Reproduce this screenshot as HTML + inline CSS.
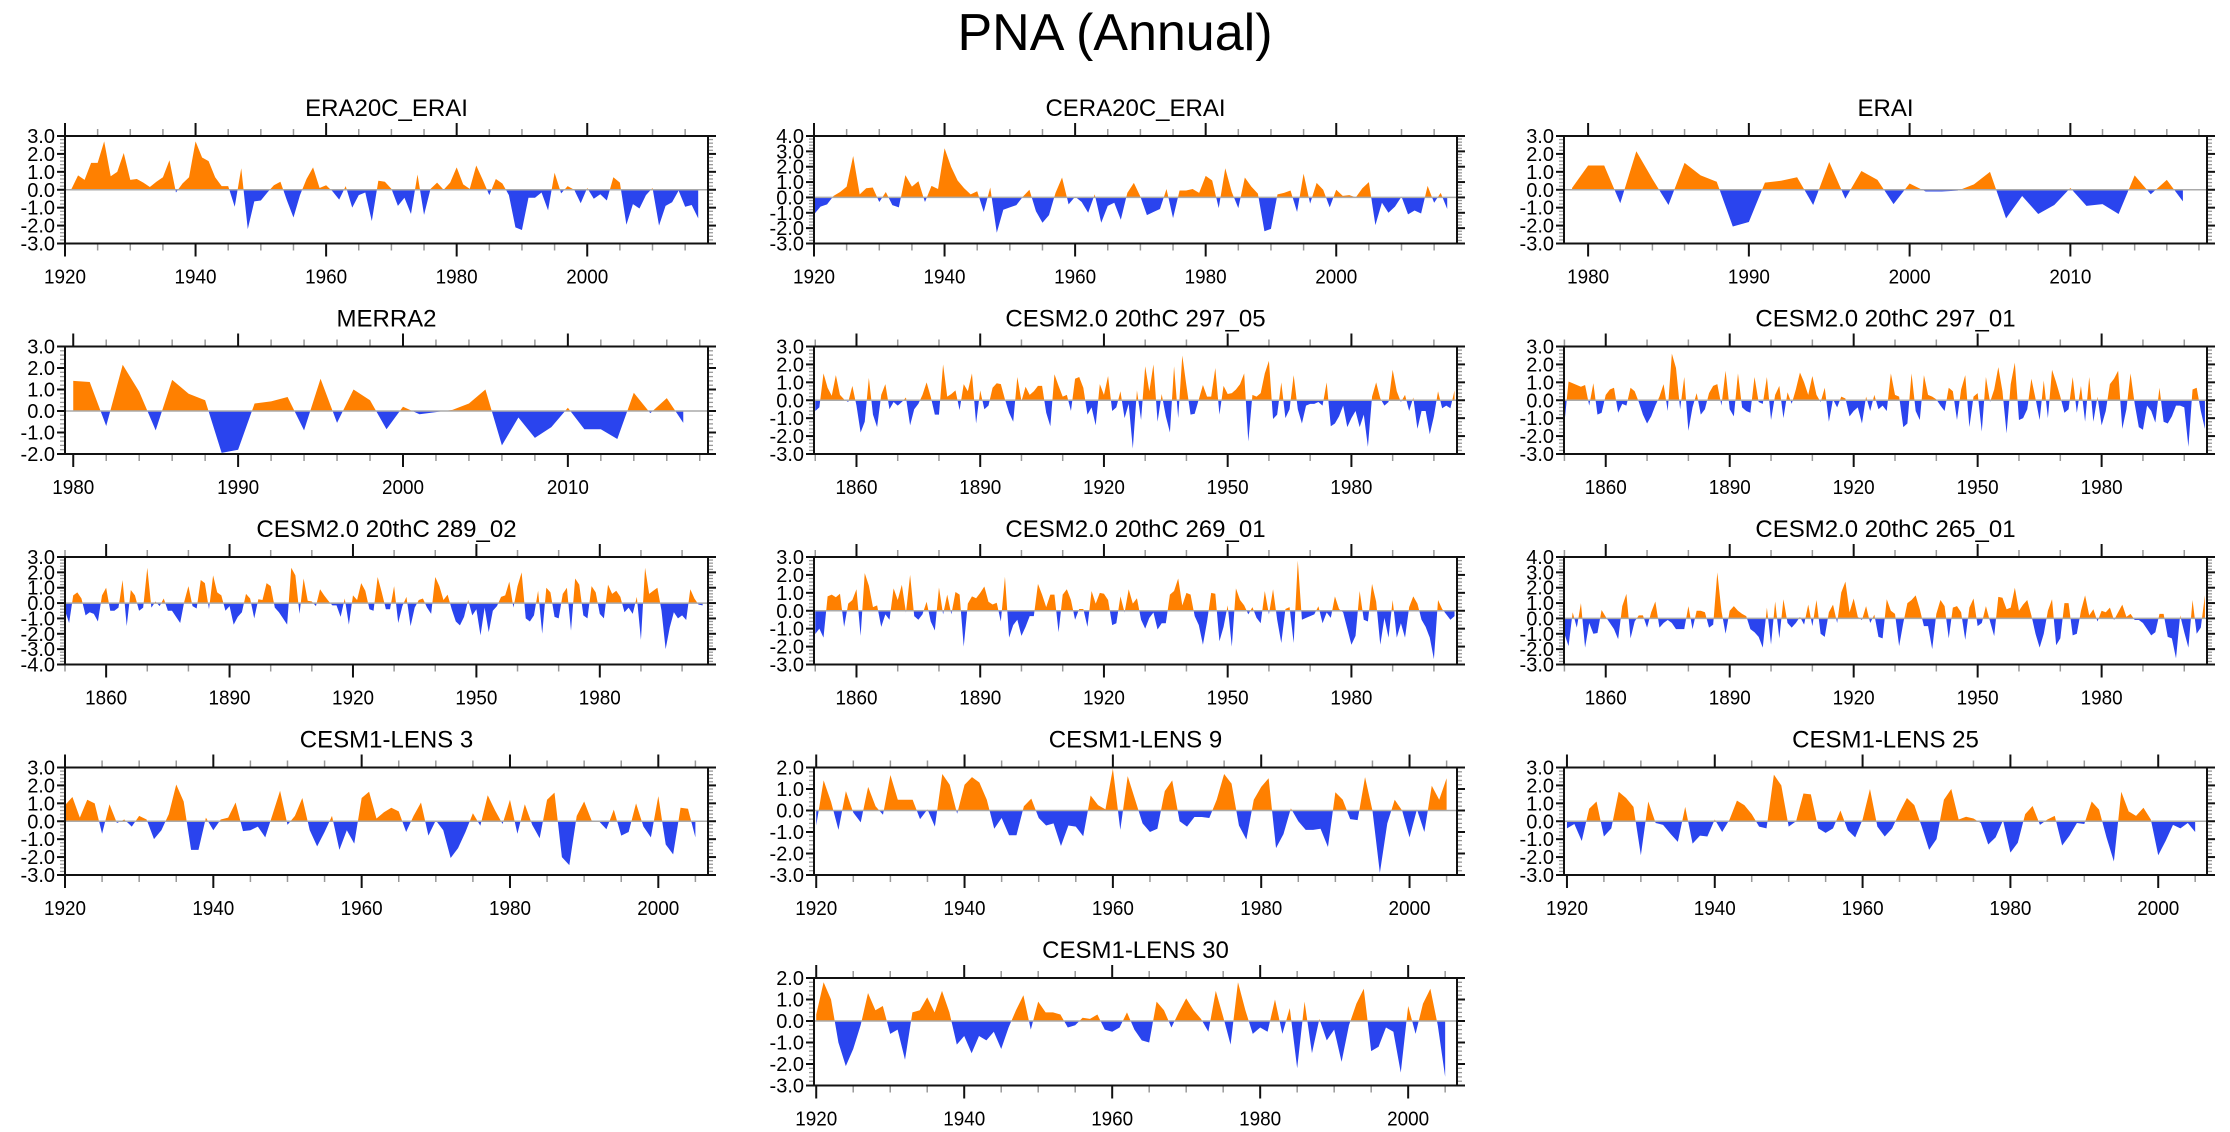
<!DOCTYPE html>
<html>
<head>
<meta charset="utf-8">
<style>
  html,body{margin:0;padding:0;background:#fff;}
  svg{display:block;font-family:"Liberation Sans",Arial,sans-serif;}
</style>
</head>
<body>
<svg id="chart" width="2230" height="1132" viewBox="0 0 2230 1132" xmlns="http://www.w3.org/2000/svg">
  <text x="1115" y="50" text-anchor="middle" font-size="52" fill="#000">PNA (Annual)</text>
</svg>
<script>
// ---------- DATA ----------
const era20cStart = 1920;
const era20cVals = [0,0.05,0.8,0.55,1.5,1.5,2.7,0.75,1.0,2.05,0.55,0.6,0.4,0.15,0.45,0.7,1.65,-0.15,0.35,0.7,2.7,1.8,1.6,0.7,0.2,0.2,-0.95,1.2,-2.2,-0.65,-0.6,-0.15,0.25,0.45,-0.6,-1.55,-0.3,0.6,1.25,0.1,0.25,-0.1,-0.55,0.2,-1.0,-0.3,-0.15,-1.75,0.5,0.45,0.05,-0.9,-0.45,-1.35,0.85,-1.4,0.05,0.4,0.0,0.4,1.25,0.3,0.05,1.35,0.55,-0.3,0.6,0.35,-0.3,-2.1,-2.25,-0.45,-0.45,-0.15,-1.15,0.95,-0.2,0.2,0.0,-0.75,0.1,-0.5,-0.25,-0.6,0.7,0.4,-1.95,-0.8,-1.05,-0.3,0.1,-2.0,-0.9,-0.7,-0.05,-0.95,-0.85,-1.6];
const cera20cStart = 1920;
const cera20cVals = [-1.1,-0.6,-0.45,0.1,0.35,0.7,2.7,0.2,0.6,0.65,-0.3,0.35,-0.5,-0.65,1.45,0.7,1.05,-0.3,0.75,0.55,3.2,2.0,1.1,0.6,0.2,0.4,-0.95,0.65,-2.3,-0.8,-0.65,-0.5,0.05,0.5,-0.9,-1.65,-1.15,0.3,1.3,-0.45,0.05,-0.3,-1.0,0.2,-1.65,-0.55,-0.35,-1.45,0.3,0.95,0.05,-1.15,-0.95,-0.75,0.55,-1.35,0.45,0.45,0.55,0.3,1.4,1.1,-0.7,1.9,0.35,-0.7,1.3,0.7,0.25,-2.2,-2.05,0.2,0.3,0.45,-0.95,1.55,-0.4,0.95,0.5,-0.65,0.5,0.1,0.15,0.0,0.6,1.0,-1.8,-0.35,-1.0,-0.6,0.05,-1.1,-0.85,-1.05,0.75,-0.35,0.3,-0.75];
const eraiStart = 1979;
const eraiVals = [0.1,1.35,1.35,-0.75,2.15,0.6,-0.85,1.5,0.8,0.45,-2.05,-1.8,0.4,0.5,0.7,-0.85,1.55,-0.5,1.05,0.55,-0.8,0.35,-0.1,-0.1,-0.05,0.3,1.0,-1.6,-0.35,-1.35,-0.85,0.1,-0.9,-0.8,-1.35,0.8,-0.25,0.55,-0.65];
const merra2Start = 1980;
const merra2Vals = [1.4,1.35,-0.7,2.15,0.9,-0.9,1.45,0.8,0.5,-1.95,-1.8,0.35,0.45,0.65,-0.9,1.5,-0.55,1.0,0.5,-0.85,0.2,-0.15,-0.05,0.05,0.35,1.0,-1.6,-0.3,-1.25,-0.75,0.15,-0.85,-0.85,-1.3,0.85,-0.1,0.6,-0.55];
const cesm29705Start = 1850;
const cesm29705Vals = [-0.6,-0.4,1.5,0.7,0.25,1.4,0.3,0.05,-0.1,0.8,-0.3,-1.8,-1.2,1.25,-0.8,-1.5,0.3,0.9,-0.5,-0.1,-0.3,-0.1,0.15,-1.4,-0.5,-0.2,0.3,1.0,0.2,-0.8,-0.8,2.0,0.2,0.35,0.55,-0.55,0.9,0.5,1.5,-1.3,0.55,-0.5,-0.3,0.7,0.95,0.9,0.05,-0.7,-1.2,1.3,-0.05,0.75,0.3,0.5,0.8,0.8,-0.7,-1.45,1.45,0.8,0.2,0.3,-0.6,1.2,1.3,0.7,-0.8,-0.4,-1.4,0.9,0.3,1.35,-0.6,-0.4,0.5,-1.0,-0.2,-2.7,0.55,-1.1,1.9,0.5,2.0,-1.2,0.35,-0.9,-1.8,1.9,-1.0,2.5,0.8,-0.8,-0.75,0.05,0.85,0.2,0.2,1.8,-0.8,0.8,0.35,0.4,0.6,0.9,1.5,-2.3,0.3,0.2,0.4,1.5,2.2,-1.05,-0.8,1.0,-1.0,-0.5,1.4,-0.5,-1.3,-0.3,-0.2,-0.2,-0.1,-0.3,1.0,-1.45,-1.3,-0.9,-0.3,-1.5,-1.0,-0.6,-1.5,-0.8,-2.6,0.2,1.0,0.1,-0.3,-0.1,1.7,0.5,-0.1,0.3,-0.6,0.15,-1.6,-0.6,-0.6,-1.9,-0.9,0.5,-0.45,-0.3,-0.45,0.55];
const cesm29701Start = 1850;
const cesm29701Vals = [-1.3,1.05,0.95,0.85,0.75,0.85,-0.3,0.95,-0.8,-0.7,0.3,0.6,0.7,-0.7,-0.2,-0.3,0.7,0.5,-0.1,-0.8,-1.3,-0.9,-0.3,0.2,0.9,-0.6,2.6,1.8,-0.5,1.3,-1.7,-0.4,0.4,-0.8,-0.5,0.4,0.8,0.9,-0.3,1.65,-0.5,-0.9,1.5,-0.4,-0.6,-0.7,1.3,-0.1,-0.2,1.3,-1.1,0.3,0.8,-1.0,0.45,-0.2,0.6,1.55,1.0,0.3,1.35,0.3,-0.1,0.7,-1.2,0.05,-0.4,0.2,0.1,-0.9,-0.6,-0.4,-1.3,0.2,-0.6,0.3,-0.5,-0.3,-0.6,1.5,0.3,0.2,-1.5,-1.3,1.5,-0.6,-1.1,1.4,0.3,0.2,0.05,-0.3,-0.6,0.7,0.5,-1.1,0.6,1.4,-1.5,0.2,0.4,-1.75,1.3,-0.1,0.6,1.85,0.5,-1.85,0.9,2.1,-1.1,-1.0,-0.5,1.2,0.1,-1.1,1.1,-1.0,1.7,1.0,0.2,-0.7,-0.5,1.3,-0.7,0.8,-1.2,1.3,-1.2,0.2,-1.4,-0.6,0.9,1.2,1.65,-1.6,-0.5,1.5,-0.2,-1.5,-1.65,-0.3,-0.6,-1.25,0.7,-1.2,-1.3,-0.9,-0.3,-0.3,-0.4,-2.6,0.6,0.7,-0.6,-1.6];
const cesm28902Start = 1850;
const cesm28902Vals = [-0.5,-1.3,0.5,0.7,0.3,-0.8,-0.6,-0.7,-1.2,0.5,1.0,-0.5,-0.5,-0.3,1.5,-1.5,0.85,0.5,-0.5,-0.3,2.3,-0.3,0.1,-0.2,0.3,-0.5,-0.5,-0.9,-1.3,0.1,1.1,-0.2,-0.35,1.5,1.3,-0.4,1.8,0.7,0.5,-0.5,-0.2,-1.4,-0.9,-0.6,0.6,0.3,-1.0,0.25,0.2,1.3,1.1,-0.3,-0.6,-1.0,-1.4,2.3,1.8,-0.7,1.6,0.15,0.1,-0.2,0.9,0.5,0.15,-0.15,-0.15,-0.9,0.3,-1.4,0.5,0.2,1.3,0.8,-0.4,-0.5,1.7,0.7,-0.4,-0.4,1.1,-1.3,-0.2,0.4,-1.5,-0.3,0.2,0.3,-0.3,-0.7,1.7,1.1,0.2,0.55,-0.4,-1.2,-1.45,-0.9,0.2,-0.8,-0.4,-2.1,-0.3,-1.9,-0.5,-0.2,0.4,0.5,1.4,-0.3,1.1,2.0,-1.0,-1.2,-0.8,0.8,-2.0,1.0,0.7,-0.9,-1.0,0.6,1.0,-1.8,1.6,1.2,-0.8,-1.0,1.1,0.7,-0.7,-1.0,1.2,0.6,0.8,0.4,-0.6,-0.3,-0.7,0.4,-2.4,2.3,0.6,0.8,1.0,-0.5,-3.0,-1.6,-0.6,-1.0,-0.8,-1.1,0.9,0.3,-0.1,-0.15];
const cesm26901Start = 1850;
const cesm26901Vals = [-1.3,-1.0,-1.5,0.8,0.9,0.75,0.95,-0.9,0.4,0.6,1.2,-1.4,2.1,1.4,0.2,0.3,-0.9,-0.2,-0.5,1.25,0.6,1.45,-0.1,2.0,-0.3,-0.5,-0.2,0.5,-0.6,-1.1,1.3,-0.2,0.9,-0.2,1.05,0.9,-2.0,0.4,0.8,0.7,1.0,1.35,0.5,0.35,0.45,-0.6,1.9,-1.5,-0.8,-0.5,-1.4,-0.9,-0.3,-0.3,1.5,0.9,0.2,0.9,0.9,-1.2,0.9,1.2,0.6,-0.5,0.1,0.1,-0.9,1.1,0.4,1.0,0.95,0.6,-0.8,-0.7,0.8,-0.1,1.2,0.4,0.7,-0.5,-1.0,-0.4,-0.1,-1.05,-0.7,-0.7,0.9,1.1,1.8,0.3,1.0,0.9,-0.3,-0.8,-1.9,-0.6,1.0,0.95,-1.7,-0.9,0.3,-2.0,1.25,0.6,0.3,-0.2,0.2,-0.4,-0.7,1.1,-0.2,1.2,-0.5,-1.8,0.1,0.2,-1.8,2.8,-0.5,-0.4,-0.3,-0.2,0.25,-0.7,-0.1,-0.4,0.8,0.1,-0.1,-1.0,-1.9,-1.4,1.1,-0.5,-0.6,1.5,0.5,-1.9,-0.4,-1.5,0.6,-1.5,-0.7,-1.5,0.2,0.8,0.4,-0.5,-0.9,-1.5,-2.7,0.6,0.1,-0.2,-0.5,-0.3];
const cesm26501Start = 1850;
const cesm26501Vals = [-1.0,-1.8,0.4,-0.6,1.0,-1.9,-0.3,-1.0,-0.95,0.55,0.1,-0.3,-0.7,-1.35,0.8,1.6,-1.3,-0.2,0.2,0.2,-0.6,0.4,1.1,-0.6,-0.3,-0.1,-0.3,-0.7,-0.7,-0.7,0.8,-0.7,0.5,0.5,0.4,-0.6,-0.4,3.0,0.5,-1.0,0.5,0.8,0.5,0.3,0.15,-0.7,-0.9,-1.2,-1.9,0.7,-1.7,1.1,-1.3,1.25,-0.3,-0.6,-0.3,0.1,-0.4,0.9,-0.5,1.2,-1.0,-1.2,0.4,0.9,-0.3,1.7,2.4,0.4,1.3,0.1,-0.1,0.8,-0.3,0.25,-1.2,-1.3,1.25,0.5,0.3,-1.8,-0.3,1.0,1.2,1.5,0.6,-0.5,-0.5,-2.0,0.3,1.2,0.8,-1.3,0.7,0.8,0.4,-1.4,0.7,1.3,-0.5,-0.3,0.8,-0.2,-1.15,1.4,1.35,0.6,0.7,2.0,0.5,0.9,1.2,0.2,-1.0,-1.9,-1.0,0.5,1.25,-1.75,-1.3,1.0,1.0,-1.1,-1.0,0.5,1.5,0.2,0.6,-0.2,0.5,0.4,0.7,-0.1,0.4,0.9,0.1,0.3,-0.1,-0.1,-0.3,-0.7,-1.1,-0.9,0.3,0.3,-1.2,-1.3,-2.6,0.2,-0.9,-1.9,1.2,-1.0,-0.6,1.5];
const lens3Start = 1920;
const lens3Vals = [0.9,1.35,0.2,1.2,1.0,-0.7,0.95,-0.1,0.1,-0.3,0.3,0.1,-1.0,-0.5,0.4,2.05,1.1,-1.6,-1.6,0.2,-0.5,0.1,0.2,1.05,-0.55,-0.5,-0.3,-0.9,0.4,1.7,-0.2,0.3,1.3,-0.5,-1.4,-0.6,0.3,-1.6,-0.5,-1.25,1.3,1.65,0.15,0.5,0.75,0.55,-0.6,0.3,1.05,-0.8,0.05,-0.5,-2.05,-1.5,-0.6,0.45,-0.25,1.45,0.6,-0.15,1.2,-0.7,0.95,-0.2,-0.95,1.2,1.6,-2.0,-2.45,0.3,1.1,0.05,0.0,-0.45,0.65,-0.8,-0.6,1.0,-0.3,-0.9,1.4,-1.3,-1.85,0.75,0.7,-0.9];
const lens9Start = 1920;
const lens9Vals = [-0.7,1.4,0.4,-0.9,0.9,-0.1,-0.55,1.1,0.2,-0.2,1.65,0.5,0.5,0.5,-0.4,0.05,-0.75,1.7,1.2,-0.15,1.2,1.55,1.3,0.5,-0.85,-0.35,-1.15,-1.15,0.2,0.55,-0.35,-0.7,-0.6,-1.65,-0.7,-0.75,-1.2,0.7,0.25,0.05,1.95,-0.9,1.6,0.5,-0.6,-1.0,-0.85,0.9,1.4,-0.5,-0.75,-0.3,-0.3,-0.35,0.5,1.7,1.25,-0.7,-1.35,0.5,1.1,1.5,-1.75,-1.1,0.1,-0.5,-0.9,-0.9,-0.85,-1.7,0.85,0.5,-0.4,-0.45,1.55,0.0,-2.9,-0.6,0.5,0.0,-1.25,0.05,-1.0,1.15,0.5,1.5];
const lens25Start = 1920;
const lens25Vals = [-0.4,-0.15,-1.1,0.7,1.1,-0.85,-0.4,1.65,1.3,0.8,-1.9,1.1,-0.1,-0.2,-0.7,-1.15,0.8,-1.25,-0.8,-0.85,0.1,-0.6,0.1,1.15,0.9,0.4,-0.3,-0.4,2.6,2.0,-0.3,0.0,1.55,1.5,-0.4,-0.65,-0.4,0.6,-0.5,-0.9,0.1,1.8,-0.3,-0.85,-0.4,0.5,1.3,0.9,-0.3,-1.6,-1.0,1.2,1.8,0.1,0.25,0.15,-0.1,-1.3,-0.9,0.05,-1.75,-1.2,0.4,0.85,-0.2,0.1,0.3,-1.35,-0.8,-0.1,-0.15,1.1,0.65,-0.9,-2.25,1.65,0.55,0.3,0.75,0.1,-1.9,-1.1,-0.2,-0.4,-0.1,-0.6];
const lens30Start = 1920;
const lens30Vals = [0.3,1.8,1.0,-1.0,-2.1,-1.3,-0.2,1.3,0.5,0.7,-0.6,-0.4,-1.8,0.4,0.5,1.1,0.4,1.4,0.4,-1.1,-0.7,-1.5,-0.7,-0.9,-0.5,-1.3,-0.3,0.5,1.2,-0.4,0.9,0.4,0.4,0.3,-0.3,-0.2,0.15,0.1,0.3,-0.4,-0.5,-0.3,0.4,-0.4,-0.9,-1.0,0.9,0.5,-0.3,0.4,1.05,0.5,0.1,-0.5,1.4,0.2,-1.1,1.8,0.5,-0.6,-0.3,-0.5,1.0,-0.6,0.6,-2.2,0.9,-1.5,0.1,-0.9,-0.4,-1.9,-0.2,0.8,1.5,-1.4,-1.2,-0.3,-0.5,-2.4,0.7,-0.6,0.8,1.5,-0.2,-2.6];

// ---------- LAYOUT ----------
const NS = "http://www.w3.org/2000/svg";
const svg = document.getElementById("chart");
const PW = 643, PH = 107.5;
const colX = [65, 814, 1564];
const rowY = [136, 346.5, 557, 767.5, 978];
const ORANGE = "#ff8000", BLUE = "#2a44ee";

function mk(tag, attrs, parent) {
  const e = document.createElementNS(NS, tag);
  for (const k in attrs) e.setAttribute(k, attrs[k]);
  (parent || svg).appendChild(e);
  return e;
}

const panels = [
  {id:"era20c-erai", title:"ERA20C_ERAI", vals:era20cVals, start:era20cStart, xmin:1920, xmax:2018.5, ymin:-3, ymax:3, major:20, minor:5, c:0, r:0},
  {id:"cera20c-erai", title:"CERA20C_ERAI", vals:cera20cVals, start:cera20cStart, xmin:1920, xmax:2018.5, ymin:-3, ymax:4, major:20, minor:5, c:1, r:0},
  {id:"erai", title:"ERAI", vals:eraiVals, start:eraiStart, xmin:1978.5, xmax:2018.5, ymin:-3, ymax:3, major:10, minor:2, c:2, r:0},
  {id:"merra2", title:"MERRA2", vals:merra2Vals, start:merra2Start, xmin:1979.5, xmax:2018.5, ymin:-2, ymax:3, major:10, minor:2, c:0, r:1},
  {id:"cesm2-297-05", title:"CESM2.0 20thC 297_05", vals:cesm29705Vals, start:cesm29705Start, xmin:1849.7, xmax:2005.6, ymin:-3, ymax:3, major:30, minor:10, c:1, r:1},
  {id:"cesm2-297-01", title:"CESM2.0 20thC 297_01", vals:cesm29701Vals, start:cesm29701Start, xmin:1849.9, xmax:2005.5, ymin:-3, ymax:3, major:30, minor:10, c:2, r:1},
  {id:"cesm2-289-02", title:"CESM2.0 20thC 289_02", vals:cesm28902Vals, start:cesm28902Start, xmin:1850, xmax:2006.3, ymin:-4, ymax:3, major:30, minor:10, c:0, r:2},
  {id:"cesm2-269-01", title:"CESM2.0 20thC 269_01", vals:cesm26901Vals, start:cesm26901Start, xmin:1849.7, xmax:2005.6, ymin:-3, ymax:3, major:30, minor:10, c:1, r:2},
  {id:"cesm2-265-01", title:"CESM2.0 20thC 265_01", vals:cesm26501Vals, start:cesm26501Start, xmin:1849.9, xmax:2005.5, ymin:-3, ymax:4, major:30, minor:10, c:2, r:2},
  {id:"cesm1-lens-3", title:"CESM1-LENS 3", vals:lens3Vals, start:lens3Start, xmin:1920, xmax:2006.7, ymin:-3, ymax:3, major:20, minor:5, c:0, r:3},
  {id:"cesm1-lens-9", title:"CESM1-LENS 9", vals:lens9Vals, start:lens9Start, xmin:1919.7, xmax:2006.4, ymin:-3, ymax:2, major:20, minor:5, c:1, r:3},
  {id:"cesm1-lens-25", title:"CESM1-LENS 25", vals:lens25Vals, start:lens25Start, xmin:1919.6, xmax:2006.6, ymin:-3, ymax:3, major:20, minor:5, c:2, r:3},
  {id:"cesm1-lens-30", title:"CESM1-LENS 30", vals:lens30Vals, start:lens30Start, xmin:1919.7, xmax:2006.6, ymin:-3, ymax:2, major:20, minor:5, c:1, r:4}
];

function drawPanel(p, idx) {
  const L = colX[p.c], T = rowY[p.r], R = L + PW, B = T + PH;
  const xs = v => L + (v - p.xmin) / (p.xmax - p.xmin) * PW;
  const ys = v => B - (v - p.ymin) / (p.ymax - p.ymin) * PH;

  const g = mk("g", {});
  
  

  const title = mk("text", {x: L + PW/2, y: T - 20, "text-anchor":"middle", "font-size":"24", fill:"#000"}, g);
  title.textContent = p.title;
  
  

  const defs = mk("defs", {}, g);
  const cpA = mk("clipPath", {id:"above" + idx}, defs);
  mk("rect", {x:L, y:T, width:PW, height:ys(0) - T}, cpA);
  const cpB = mk("clipPath", {id:"below" + idx}, defs);
  mk("rect", {x:L, y:ys(0), width:PW, height:B - ys(0)}, cpB);

  let d = "M" + xs(p.start).toFixed(2) + "," + ys(0).toFixed(2);
  p.vals.forEach((v, i) => { d += " L" + xs(p.start + i).toFixed(2) + "," + ys(v).toFixed(2); });
  d += " L" + xs(p.start + p.vals.length - 1).toFixed(2) + "," + ys(0).toFixed(2) + " Z";

  const pos = mk("path", {d: d, fill: ORANGE, "clip-path": "url(#above" + idx + ")"}, g);
  
  
  const neg = mk("path", {d: d, fill: BLUE, "clip-path": "url(#below" + idx + ")"}, g);
  
  

  const zl = mk("line", {x1:L, x2:R, y1:ys(0), y2:ys(0), stroke:"#aaa", "stroke-width":"1.5"}, g);
  
  

  const firstMinor = Math.ceil(p.xmin / p.minor) * p.minor;
  for (let t = firstMinor; t <= p.xmax + 1e-6; t += p.minor) {
    const isMajor = Math.abs(t / p.major - Math.round(t / p.major)) < 1e-6;
    const len = isMajor ? 13 : 7;
    const col = isMajor ? "#111" : "#999";
    const sw = isMajor ? 2 : 1.5;
    mk("line", {x1:xs(t), x2:xs(t), y1:B, y2:B + len, stroke:col, "stroke-width":sw}, g);
    mk("line", {x1:xs(t), x2:xs(t), y1:T, y2:T - len, stroke:col, "stroke-width":sw}, g);
    if (isMajor) {
      const lab = mk("text", {x:xs(t), y:B + 40, "text-anchor":"middle", "font-size":"20", fill:"#000", textLength:"42", lengthAdjust:"spacingAndGlyphs"}, g);
      lab.textContent = String(t);
      
      
    }
  }
  for (let k = 0; k <= Math.round((p.ymax - p.ymin) * 5); k++) {
    const v = p.ymin + k * 0.2;
    const isMajor = k % 5 === 0;
    const len = isMajor ? 8 : 5;
    const col = isMajor ? "#111" : "#999";
    mk("line", {x1:L, x2:L - len, y1:ys(v), y2:ys(v), stroke:col, "stroke-width":isMajor ? 2 : 1.3}, g);
    mk("line", {x1:R, x2:R + len, y1:ys(v), y2:ys(v), stroke:col, "stroke-width":isMajor ? 2 : 1.3}, g);
    if (isMajor) {
      const lab = mk("text", {x:L - 10, y:ys(v) + 7, "text-anchor":"end", "font-size":"20", fill:"#000"}, g);
      lab.textContent = v.toFixed(1);
      
      
    }
  }
  const frame = mk("rect", {x:L, y:T, width:PW, height:PH, fill:"none", stroke:"#111", "stroke-width":"2"}, g);
  
  
}

panels.forEach(drawPanel);
</script>
</body>
</html>
